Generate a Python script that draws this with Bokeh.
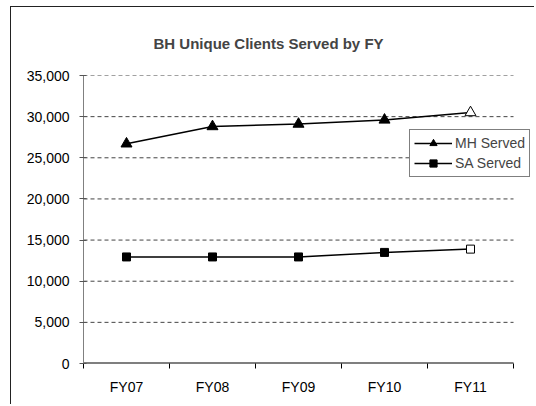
from bokeh.plotting import figure
from bokeh.models import FixedTicker, NumeralTickFormatter, Legend, LegendItem, Range1d
from bokeh.embed import file_html
from bokeh.resources import INLINE

categories = ["FY07", "FY08", "FY09", "FY10", "FY11"]
mh_served = [26700, 28800, 29100, 29600, 30500]
sa_served = [12950, 12950, 12950, 13500, 13900]
y_ticks = [0, 5000, 10000, 15000, 20000, 25000, 30000, 35000]
title_text = "BH Unique Clients Served by FY"

n = len(categories)
xs = [i + 0.5 for i in range(n)]
bounds = list(range(n + 1))
FONT = "Liberation Sans"

p = figure(width=524, height=398, output_backend="svg", toolbar_location=None,
           x_range=Range1d(0, 5.244), y_range=Range1d(0, 35000),
           min_border_left=72, min_border_right=1, min_border_top=68, min_border_bottom=42,
           title=title_text)
p.styles = {"border-left": "1px solid #222", "border-top": "1px solid #222",
            "margin-left": "10px", "margin-top": "6px"}
p.outline_line_color = None
p.background_fill_color = "white"
p.border_fill_color = "white"

p.title.text_font = FONT
p.title.text_font_size = "15px"
p.title.text_font_style = "bold"
p.title.align = "left"
p.title.offset = 70
p.title.standoff = 48

# grid drawn over the category span only
p.xgrid.visible = False
p.ygrid.visible = False
grid_y = y_ticks[1:]
p.segment(x0=[bounds[0]] * len(grid_y), y0=grid_y, x1=[bounds[-1]] * len(grid_y), y1=grid_y,
          line_color="#444444", line_dash="4 3", line_width=1)
p.segment(x0=[bounds[0]], y0=[y_ticks[0]], x1=[bounds[-1]], y1=[y_ticks[0]],
          line_color="black", line_width=2)

# x axis
p.xaxis.ticker = FixedTicker(ticks=xs, minor_ticks=bounds)
p.xaxis.major_label_overrides = {x: c for x, c in zip(xs, categories)}
p.xaxis.major_tick_line_color = None
p.xaxis.major_tick_out = 0
p.xaxis.major_tick_in = 0
p.xaxis.minor_tick_line_color = "black"
p.xaxis.minor_tick_out = 5
p.xaxis.minor_tick_in = 0
p.xaxis.axis_line_color = None
p.xaxis.major_label_standoff = 10
p.xaxis.major_label_text_font = FONT
p.xaxis.major_label_text_font_size = "14px"
p.xaxis.major_label_text_color = "black"

# y axis
p.yaxis.ticker = FixedTicker(ticks=y_ticks, minor_ticks=[])
p.yaxis.formatter = NumeralTickFormatter(format="0,0")
p.yaxis.axis_line_color = "#808080"
p.yaxis.major_tick_line_color = "#555555"
p.yaxis.major_tick_out = 4
p.yaxis.major_tick_in = 3
p.yaxis.minor_tick_line_color = None
p.yaxis.major_label_standoff = 10
p.yaxis.major_label_text_font = FONT
p.yaxis.major_label_text_font_size = "14px"
p.yaxis.major_label_text_color = "black"

# series
mh_line = p.line(xs, mh_served, line_color="black", line_width=1.5)
mh_pts = p.scatter(xs[:-1], mh_served[:-1], marker="triangle", size=11,
                   fill_color="black", line_color="black")
p.scatter(xs[-1:], mh_served[-1:], marker="triangle", size=11,
          fill_color="white", line_color="black", line_width=1)

sa_line = p.line(xs, sa_served, line_color="black", line_width=1.5)
sa_pts = p.scatter(xs[:-1], sa_served[:-1], marker="square", size=8,
                   fill_color="black", line_color="black")
p.scatter(xs[-1:], sa_served[-1:], marker="square", size=8,
          fill_color="white", line_color="black", line_width=1)

legend = Legend(items=[LegendItem(label="MH Served", renderers=[mh_line, mh_pts]),
                       LegendItem(label="SA Served", renderers=[sa_line, sa_pts])],
                location=(326, 186))
legend.label_text_font = FONT
legend.label_text_font_size = "14px"
legend.glyph_width = 38
legend.glyph_height = 18
legend.label_standoff = 3
legend.padding = 4
legend.spacing = 2
legend.margin = 0
legend.border_line_color = "black"
legend.border_line_width = 1
legend.background_fill_alpha = 1
p.add_layout(legend, "center")

open("out.html", "w").write(file_html(p, INLINE))
